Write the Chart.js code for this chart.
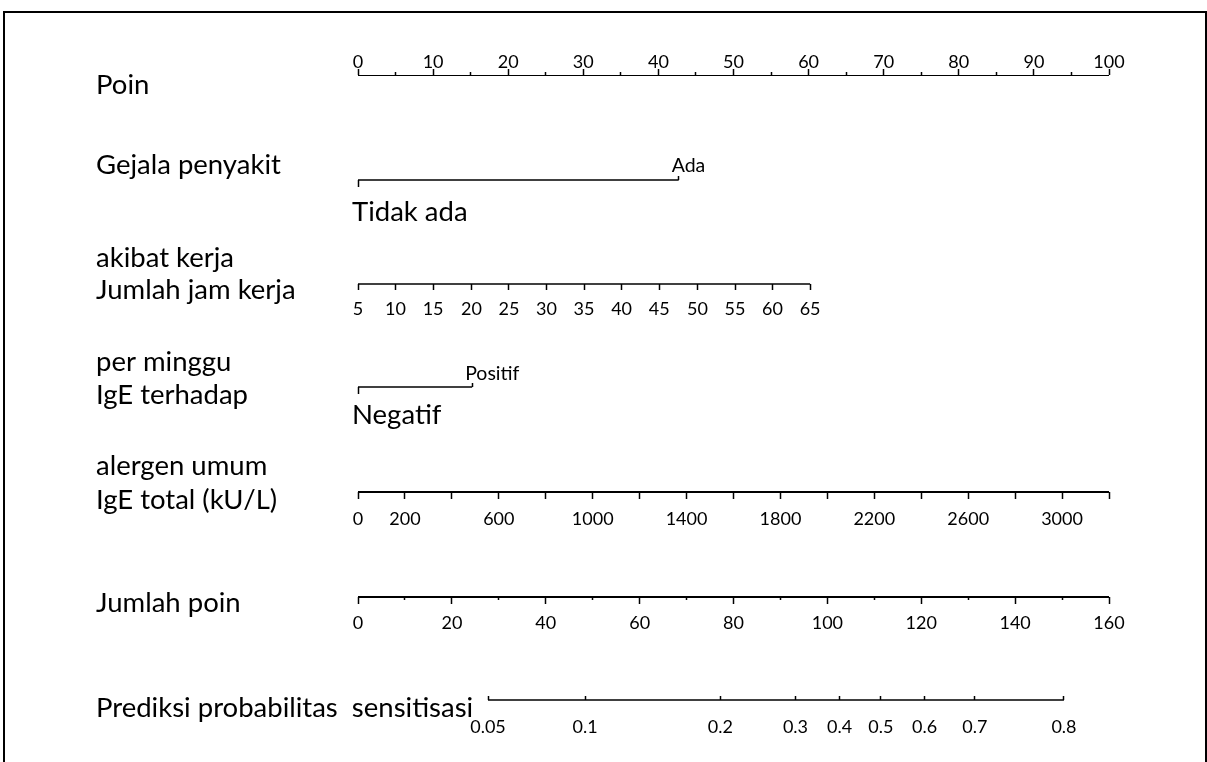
<!DOCTYPE html>
<html><head><meta charset="utf-8">
<script src="https://cdn.jsdelivr.net/npm/chart.js@4.4.1/dist/chart.umd.min.js"></script>
<style>
html,body{margin:0;padding:0;background:#fff;}
#wrap{position:relative;width:1207px;height:762px;overflow:hidden;}
#frame{position:absolute;left:3px;top:11px;width:1200px;height:800px;border:2px solid #000;border-bottom:none;}
canvas{position:absolute;left:0;top:0;}
</style></head><body>
<div id="wrap"><div id="frame"></div><canvas id="c" width="1207" height="762"></canvas></div>
<script>
// ---------------- data ----------------
const pointTicks = [0,10,20,30,40,50,60,70,80,90,100];
const pointMinorTicks = [5,15,25,35,45,55,65,75,85,95];

const symptomLevels = ['Tidak ada','Ada'];
const symptomPoints = [0, 42.7];

const hoursTicks  = [5,10,15,20,25,30,35,40,45,50,55,60,65];
const hoursPoints = [0,5.0,10.0,15.1,20.1,25.1,30.1,35.1,40.1,45.2,50.2,55.2,60.2];

const igeSpecLevels = ['Negatif','Positif'];
const igeSpecPoints = [0, 15.2];

const igeTotalTicks    = [0,200,400,600,800,1000,1200,1400,1600,1800,2000,2200,2400,2600,2800,3000,3200];
const igeTotalPoints   = [0,6.25,12.5,18.75,25,31.25,37.5,43.75,50,56.25,62.5,68.75,75,81.25,87.5,93.75,100];
const igeTotalLabelled = [0,200,600,1000,1400,1800,2200,2600,3000];

const totalTicks      = [0,20,40,60,80,100,120,140,160];
const totalMinorTicks = [10,30,50,70,90,110,130,150];

const probTicks       = [0.05,0.1,0.2,0.3,0.4,0.5,0.6,0.7,0.8];
const probTotalPoints = [27.7,48.4,77.2,93.2,102.6,111.4,120.7,131.4,150.4];

const rowLabels = ['Poin','Gejala penyakit','akibat kerja','Jumlah jam kerja','per minggu',
  'IgE terhadap','alergen umum','IgE total (kU/L)','Jumlah poin','Prediksi probabilitas  sensitisasi'];

// ---------------- layout (pixels from top of plot area) ----------------
const rowY = {points:0, symptom:105, hours:209, igeSpec:312, igeTotal:417, total:522, prob:625};
const leftLabelY = [10.5, 90.5, 183.5, 215.5, 287.5, 320.5, 391.5, 425.5, 528.5, 633.5];
const FONT = 'Lato';
const TICK_SIZE = 18, BIG_SIZE = 27.5, SMALL_SIZE = 19.5;

function tickAxis(o) {
  return {
    type:'linear', axis:'x', display:true, min:o.min, max:o.max,
    position:{y:o.y},
    border:{display:false},
    grid:{display:true, drawOnChartArea:false, drawTicks:o.tl>0, tickLength:o.tl,
          tickColor:'#000', tickWidth:o.tw||1.5},
    ticks:{autoSkip:false, maxRotation:0, minRotation:0, color:'#000',
           font:{family:FONT, size:o.size||TICK_SIZE}, padding:o.pad||0,
           align:o.align||'center', labelOffset:o.lo||0,
           callback:(v,i)=> (o.labels ? o.labels[i] : '')},
    afterBuildTicks: s => { s.ticks = o.values.map(v=>({value:v})); }
  };
}

const lineDs = (xAxisID, a, b, y, w) => ({
  xAxisID, yAxisID:'y', showLine:true, borderColor:'#000', borderWidth:w,
  pointRadius:0, fill:false, data:[{x:a,y:y},{x:b,y:y}]
});

const last = arr => arr[arr.length-1];

new Chart(document.getElementById('c'), {
  type:'scatter',
  data:{ datasets:[
    lineDs('xP', pointTicks[0], last(pointTicks), rowY.points, 2),
    lineDs('xP', symptomPoints[0], last(symptomPoints), rowY.symptom, 1.3),
    lineDs('xP', hoursPoints[0], last(hoursPoints), rowY.hours, 1.6),
    lineDs('xP', igeSpecPoints[0], last(igeSpecPoints), rowY.igeSpec, 1.3),
    lineDs('xP', igeTotalPoints[0], last(igeTotalPoints), rowY.igeTotal, 2),
    lineDs('xT', totalTicks[0], last(totalTicks), rowY.total, 2),
    lineDs('xT', probTotalPoints[0], last(probTotalPoints), rowY.prob, 1.3)
  ]},
  options:{
    responsive:false, animation:false, devicePixelRatio:1,
    layout:{padding:{left:358, right:98, top:75, bottom:47}},
    plugins:{legend:{display:false}, tooltip:{enabled:false}, title:{display:false}},
    events:[],
    scales:{
      y:{type:'linear', axis:'y', position:'left', reverse:true, min:0, max:640,
         border:{display:false}, grid:{display:false, drawTicks:false},
         afterFit: s => { s.width = 0; },
         ticks:{mirror:true, crossAlign:'near', padding:-262, autoSkip:false, color:'#000',
                font:{family:FONT, size:BIG_SIZE}, callback:(v,i)=>rowLabels[i]},
         afterBuildTicks: s => { s.ticks = leftLabelY.map(v=>({value:v})); }},
      xP:{type:'linear', axis:'x', display:false, min:0, max:100},
      xT:{type:'linear', axis:'x', display:false, min:0, max:160},
      // Poin
      pMaj: tickAxis({min:0,max:100,y:rowY.points-6,tl:6,values:pointTicks,labels:pointTicks.map(String),pad:-24}),
      pMin: tickAxis({min:0,max:100,y:rowY.points-3,tl:3,values:pointMinorTicks}),
      // Gejala
      gDown: tickAxis({min:0,max:100,y:rowY.symptom,tl:7,values:[symptomPoints[0]],labels:[symptomLevels[0]],size:BIG_SIZE,pad:8.5,align:'start',lo:-6}),
      gUp: tickAxis({min:0,max:100,y:rowY.symptom-4,tl:4,values:[symptomPoints[1]],labels:[symptomLevels[1]],size:SMALL_SIZE,pad:-26,align:'start',lo:-7}),
      // Jam kerja
      hAx: tickAxis({min:0,max:100,y:rowY.hours,tl:6,values:hoursPoints,labels:hoursTicks.map(String),pad:8}),
      // IgE terhadap
      iDown: tickAxis({min:0,max:100,y:rowY.igeSpec,tl:7,values:[igeSpecPoints[0]],labels:[igeSpecLevels[0]],size:BIG_SIZE,pad:4.5,align:'start',lo:-6}),
      iUp: tickAxis({min:0,max:100,y:rowY.igeSpec-4,tl:4,values:[igeSpecPoints[1]],labels:[igeSpecLevels[1]],size:SMALL_SIZE,pad:-24.5,align:'start',lo:-7}),
      // IgE total
      tAx: tickAxis({min:0,max:100,y:rowY.igeTotal,tl:7,values:igeTotalPoints,
            labels:igeTotalTicks.map(v=>igeTotalLabelled.includes(v)?String(v):''),pad:9}),
      // Jumlah poin
      totMaj: tickAxis({min:0,max:160,y:rowY.total,tl:7,values:totalTicks,labels:totalTicks.map(String),pad:8}),
      totMin: tickAxis({min:0,max:160,y:rowY.total,tl:3,values:totalMinorTicks}),
      // Probabilitas
      prAx: tickAxis({min:0,max:160,y:rowY.prob-4,tl:4,values:probTotalPoints,labels:probTicks.map(String),pad:16})
    }
  }
});
</script>
</body></html>
